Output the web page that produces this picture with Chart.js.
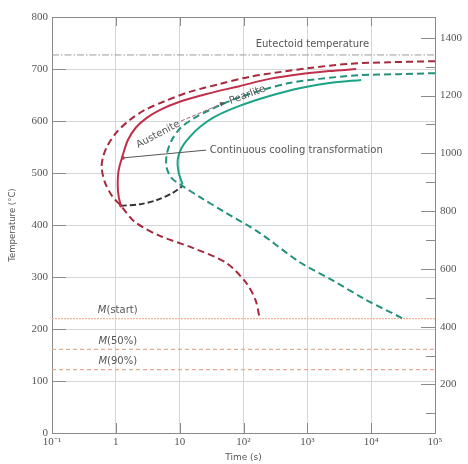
<!DOCTYPE html>
<html><head><meta charset="utf-8">
<script src="https://cdn.jsdelivr.net/npm/chart.js@4.4.0/dist/chart.umd.min.js"></script>
<style>html,body{margin:0;background:#fff}canvas{display:block}</style>
</head><body>
<canvas id="tttChart" width="468" height="464"></canvas>
<script>
// axis ticks
const timeTicks = [0.1, 1, 10, 100, 1e3, 1e4, 1e5];
const timeTickLabels = ['10⁻¹', '1', '10', '10²', '10³', '10⁴', '10⁵'];
const tempFTicks = [100, 200, 300, 400, 500, 600, 700, 800, 900, 1000, 1100, 1200, 1300, 1400];

// isothermal start (red dashed)
const isoStartTime = [1e5, 19100, 4530, 1075, 365, 124, 42, 14.3, 5.8, 2.84, 1.65, 1.04, 0.75, 0.63, 0.6, 0.67, 0.87, 1.2, 1.98, 4.9, 16, 54, 111, 154, 178];
const isoStartTemp = [715, 713, 710, 702, 694, 685, 671, 656, 638, 621, 602, 579, 554, 531, 510, 483, 456, 437, 406, 379, 356, 327, 288, 256, 223];
// continuous cooling start (red solid)
const cctStartTime = [5830, 2207, 750, 255, 86.6, 26.4, 10, 4.87, 3.05, 2.05, 1.54, 1.29, 1.11, 1.07, 1.11, 1.2];
const cctStartTemp = [700, 696, 690, 681, 667, 652, 637, 621, 606, 587, 563, 535, 506, 477, 454, 437];
// isothermal finish (green dashed)
const isoFinishTime = [1e5, 27400, 6490, 1540, 524, 178, 72, 29.4, 17.1, 10.4, 7.5, 6.26, 6.26, 7.5, 11.1, 20.5, 50.5, 178, 750, 2455, 8330, 30500];
const isoFinishTemp = [692, 690, 688, 681, 673, 658, 642, 621, 606, 587, 563, 535, 510, 490, 475, 454, 425, 385, 329, 294, 256, 221];
// continuous cooling finish (green solid)
const cctFinishTime = [6980, 2207, 750, 255, 86.6, 35.2, 20.5, 14.3, 10.7, 9.3, 9.6, 11.1];
const cctFinishTemp = [679, 673, 663, 648, 629, 608, 588, 569, 548, 525, 502, 478];
// link between start and finish (black dashed)
const linkTime = [1.2, 2.4, 4.4, 7.8, 11.1];
const linkTemp = [437, 440, 448, 462, 475];

const eutectoidTemp = 727;
const martensiteTemps = [220, 161, 122];
const martensiteNames = ['start', '50%', '90%'];

const pts = (xs, ys) => xs.map((x, i) => ({ x, y: ys[i] }));
const hline = v => [{ x: 0.1, y: v }, { x: 1e5, y: v }];
const curve = (data, color, dash) => ({ data, borderColor: color, borderWidth: 2, borderDash: dash || [], tension: 0.3, showLine: true, pointRadius: 0 });

const labelFont = '10px "DejaVu Sans", sans-serif';
const tickFont = { family: '"Liberation Serif", "Times New Roman", serif', size: 11 };

const decor = {
  id: 'decor',
  afterDatasetsDraw(chart) {
    const { ctx, chartArea: a, scales: { x, y, yF } } = chart;
    const px = t => x.getPixelForValue(t), py = T => y.getPixelForValue(T);
    ctx.save();
    // frame top + inward ticks
    ctx.strokeStyle = '#8a8a8a'; ctx.lineWidth = 1;
    ctx.beginPath(); ctx.moveTo(a.left, a.top + 0.5); ctx.lineTo(a.right, a.top + 0.5); ctx.stroke();
    ctx.beginPath();
    for (let T = 0; T <= 800; T += 100) { const yy = Math.round(py(T)) + 0.5; ctx.moveTo(a.left, yy); ctx.lineTo(a.left + 14, yy); }
    timeTicks.forEach(t => { const xx = Math.round(px(t)) + 0.5; ctx.moveTo(xx, a.bottom); ctx.lineTo(xx, a.bottom - 10); ctx.moveTo(xx, a.top); ctx.lineTo(xx, a.top + 9); });
    tempFTicks.forEach(f => { const yy = Math.round(yF.getPixelForValue(f)) + 0.5; ctx.moveTo(a.right, yy); ctx.lineTo(a.right - (f % 200 === 0 ? 14 : 9), yy); });
    ctx.stroke();

    ctx.fillStyle = '#555'; ctx.font = labelFont; ctx.textBaseline = 'middle';
    // eutectoid
    ctx.textAlign = 'center';
    ctx.fillText('Eutectoid temperature', px(1200), py(748));
    // martensite labels
    martensiteTemps.forEach((T, i) => {
      const cx = px(1.07), cy = py(T + 15);
      const rest = '(' + martensiteNames[i] + ')';
      ctx.font = 'italic ' + labelFont; const mw = ctx.measureText('M').width;
      ctx.font = labelFont; const rw = ctx.measureText(rest).width;
      const x0 = cx - (mw + rw) / 2;
      ctx.textAlign = 'left';
      ctx.font = 'italic ' + labelFont; ctx.fillText('M', x0, cy);
      ctx.font = labelFont; ctx.fillText(rest, x0 + mw, cy);
    });
    // continuous cooling label + leader
    ctx.textAlign = 'left';
    ctx.fillText('Continuous cooling transformation', px(29.5), py(544));
    ctx.strokeStyle = '#555'; ctx.lineWidth = 1;
    ctx.beginPath(); ctx.moveTo(px(26), py(544)); ctx.lineTo(px(1.29), py(529)); ctx.stroke();
    ctx.fillStyle = '#c0304a';
    [[1.29, 529], [1.2, 437]].forEach(([t, T]) => { ctx.beginPath(); ctx.arc(px(t), py(T), 1.8, 0, Math.PI * 2); ctx.fill(); });
    // austenite -> pearlite
    ctx.fillStyle = '#555'; ctx.textAlign = 'center';
    ctx.save(); ctx.translate(px(4.6), py(574)); ctx.rotate(-28 * Math.PI / 180); ctx.fillText('Austenite', 0, 0); ctx.restore();
    ctx.save(); ctx.translate(px(115), py(650)); ctx.rotate(-20 * Math.PI / 180); ctx.fillText('Pearlite', 0, 0); ctx.restore();
    const ax0 = px(10.5), ay0 = py(600), ax1 = px(52), ay1 = py(636);
    ctx.strokeStyle = '#b06070'; ctx.setLineDash([4, 2]);
    ctx.beginPath(); ctx.moveTo(ax0, ay0); ctx.lineTo(ax1, ay1); ctx.stroke();
    ctx.setLineDash([]);
    const ang = Math.atan2(ay1 - ay0, ax1 - ax0);
    ctx.fillStyle = '#555';
    ctx.beginPath(); ctx.moveTo(ax1, ay1);
    ctx.lineTo(ax1 - 6 * Math.cos(ang - 0.4), ay1 - 6 * Math.sin(ang - 0.4));
    ctx.lineTo(ax1 - 6 * Math.cos(ang + 0.4), ay1 - 6 * Math.sin(ang + 0.4));
    ctx.closePath(); ctx.fill();
    ctx.restore();
  }
};

new Chart(document.getElementById('tttChart'), {
  type: 'scatter',
  data: {
    datasets: [
      curve(pts(isoStartTime, isoStartTemp), '#a52a3e', [7, 4]),
      curve(pts(cctStartTime, cctStartTemp), '#c0304a'),
      curve(pts(isoFinishTime, isoFinishTemp), '#24917a', [7, 4]),
      curve(pts(cctFinishTime, cctFinishTemp), '#1aa384'),
      curve(pts(linkTime, linkTemp), '#333', [6, 3]),
      { data: hline(eutectoidTemp), borderColor: '#9a9a9a', borderWidth: 1, borderDash: [7, 2, 1.5, 2], showLine: true, pointRadius: 0 },
      { data: hline(martensiteTemps[0]), borderColor: '#f0b894', borderWidth: 1.3, borderDash: [2, 1], showLine: true, pointRadius: 0 },
      { data: hline(martensiteTemps[1]), borderColor: '#e6ae90', borderWidth: 1.3, borderDash: [4, 3], showLine: true, pointRadius: 0 },
      { data: hline(martensiteTemps[2]), borderColor: '#e6ae90', borderWidth: 1.3, borderDash: [4, 3], showLine: true, pointRadius: 0 },
    ]
  },
  options: {
    responsive: false,
    animation: false,
    layout: { padding: { top: 17, right: 0, left: 0, bottom: 0 } },
    plugins: { legend: { display: false }, tooltip: { enabled: false } },
    scales: {
      x: {
        type: 'logarithmic', position: 'bottom', min: 0.1, max: 1e5,
        afterBuildTicks: s => { s.ticks = timeTicks.map(v => ({ value: v })); },
        afterFit: s => { s.height = 31; },
        ticks: { callback: (v, i) => timeTickLabels[i], font: tickFont, color: '#555', padding: 3, maxRotation: 0, autoSkip: false },
        grid: { color: '#d6d6d6', drawTicks: false },
        border: { color: '#8a8a8a' },
        title: { display: true, text: 'Time (s)', color: '#555', font: { family: '"DejaVu Sans", sans-serif', size: 9 }, padding: { top: 0, bottom: 1 } },
      },
      y: {
        position: 'left', min: 0, max: 800,
        afterFit: s => { s.width = 52; },
        ticks: { stepSize: 100, font: tickFont, color: '#555', padding: 4 },
        grid: { color: '#d6d6d6', drawTicks: false },
        border: { color: '#8a8a8a' },
        title: { display: true, text: 'Temperature (°C)', color: '#555', font: { family: '"DejaVu Sans", sans-serif', size: 8.5 }, padding: { top: 8, bottom: 0 } },
      },
      yF: {
        position: 'right', min: 32, max: 1472,
        afterBuildTicks: s => { s.ticks = tempFTicks.map(v => ({ value: v })); },
        afterFit: s => { s.width = 33; },
        ticks: { callback: v => (v % 200 === 0 ? String(v) : ''), font: tickFont, color: '#555', padding: 5, autoSkip: false },
        grid: { drawOnChartArea: false, drawTicks: false },
        border: { color: '#8a8a8a' },
      },
    },
  },
  plugins: [decor],
});
</script>
</body></html>
